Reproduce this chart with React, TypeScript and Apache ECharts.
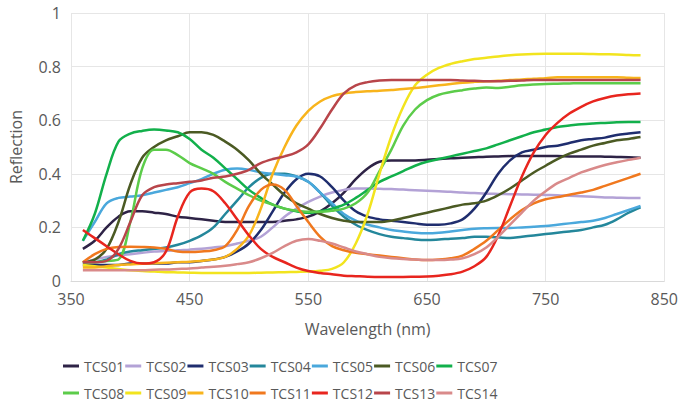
import React, { useEffect, useRef } from "react";
import * as echarts from "echarts";

const wavelengths = [360, 370, 380, 390, 400, 410, 420, 430, 440, 450, 460, 470, 480, 490, 500, 510, 520, 530, 540, 550, 560, 570, 580, 590, 600, 610, 620, 630, 640, 650, 660, 670, 680, 690, 700, 710, 720, 730, 740, 750, 760, 770, 780, 790, 800, 810, 820, 830];

const TCS01 = [.12, .15, .20, .24, .26, .26, .255, .25, .24, .235, .23, .225, .22, .22, .22, .22, .22, .225, .23, .24, .26, .29, .33, .38, .42, .445, .45, .45, .45, .452, .455, .458, .46, .462, .464, .465, .466, .466, .466, .466, .466, .465, .465, .465, .464, .463, .462, .46];
const TCS02 = [.07, .08, .09, .095, .10, .105, .11, .112, .115, .117, .12, .125, .13, .14, .15, .165, .20, .24, .27, .295, .315, .33, .34, .345, .345, .344, .343, .341, .339, .337, .335, .333, .33, .328, .326, .325, .324, .323, .322, .321, .32, .318, .316, .314, .312, .311, .31, .31];
const TCS03 = [.06, .06, .06, .06, .065, .065, .065, .065, .07, .07, .075, .08, .09, .11, .14, .19, .26, .33, .38, .40, .39, .35, .30, .26, .24, .23, .225, .22, .215, .21, .21, .215, .23, .27, .33, .40, .45, .48, .49, .50, .505, .515, .525, .53, .535, .545, .55, .555];
const TCS04 = [.07, .07, .08, .10, .11, .115, .12, .125, .135, .15, .17, .20, .25, .30, .35, .385, .40, .40, .39, .37, .33, .28, .24, .21, .19, .175, .165, .16, .155, .153, .155, .158, .16, .165, .165, .163, .16, .165, .17, .175, .18, .185, .19, .20, .21, .23, .255, .275];
const TCS05 = [.15, .22, .29, .31, .315, .32, .33, .34, .35, .365, .38, .40, .415, .42, .415, .405, .40, .395, .39, .37, .33, .29, .25, .225, .21, .20, .19, .185, .18, .178, .18, .185, .19, .195, .197, .198, .198, .20, .202, .205, .21, .215, .22, .225, .235, .25, .265, .28];
const TCS06 = [.07, .08, .12, .22, .36, .46, .50, .525, .54, .555, .555, .545, .52, .49, .45, .40, .36, .32, .29, .27, .25, .235, .225, .22, .22, .22, .225, .235, .245, .255, .265, .275, .285, .29, .30, .32, .345, .375, .405, .43, .455, .475, .49, .505, .515, .525, .53, .537];
const TCS07 = [.15, .25, .40, .52, .55, .56, .565, .562, .555, .53, .49, .46, .42, .38, .34, .31, .285, .27, .26, .255, .26, .27, .285, .31, .34, .37, .39, .41, .43, .445, .455, .465, .475, .485, .495, .51, .525, .54, .555, .565, .575, .58, .585, .588, .59, .592, .593, .593];
const TCS08 = [.07, .07, .075, .08, .22, .42, .49, .49, .47, .44, .42, .40, .37, .345, .32, .30, .285, .27, .262, .258, .258, .262, .27, .29, .33, .41, .49, .58, .64, .675, .695, .705, .712, .718, .722, .72, .725, .73, .733, .735, .736, .737, .738, .738, .738, .738, .738, .738];
const TCS09 = [.06, .055, .05, .045, .04, .037, .035, .033, .032, .031, .03, .03, .03, .03, .03, .031, .032, .033, .034, .035, .038, .045, .07, .14, .25, .40, .54, .65, .73, .77, .795, .81, .82, .828, .833, .838, .842, .845, .847, .848, .848, .848, .848, .847, .846, .845, .843, .842];
const TCS10 = [.05, .05, .055, .06, .062, .064, .066, .068, .07, .072, .075, .08, .09, .12, .17, .27, .40, .50, .58, .635, .67, .69, .70, .705, .708, .71, .713, .716, .72, .725, .73, .735, .74, .743, .745, .747, .75, .752, .755, .757, .76, .76, .76, .76, .76, .76, .758, .757];
const TCS11 = [.07, .10, .12, .127, .128, .127, .125, .12, .11, .108, .11, .115, .13, .19, .28, .34, .36, .34, .28, .22, .165, .13, .115, .105, .10, .095, .09, .085, .08, .078, .08, .085, .095, .12, .15, .19, .23, .265, .29, .305, .313, .322, .33, .34, .355, .37, .385, .40];
const TCS12 = [.19, .16, .13, .10, .075, .065, .07, .11, .24, .33, .345, .335, .29, .23, .17, .12, .09, .07, .05, .037, .03, .025, .02, .018, .016, .015, .015, .015, .016, .017, .02, .025, .035, .055, .09, .17, .28, .39, .48, .545, .59, .625, .65, .67, .683, .692, .697, .70];
const TCS13 = [.07, .07, .075, .12, .22, .32, .35, .36, .365, .37, .375, .385, .39, .40, .415, .44, .455, .465, .48, .51, .57, .64, .70, .73, .742, .748, .75, .75, .75, .75, .75, .75, .748, .747, .745, .745, .747, .748, .75, .75, .75, .75, .75, .75, .75, .75, .75, .75];
const TCS14 = [.04, .04, .04, .04, .04, .04, .042, .043, .045, .047, .05, .053, .057, .063, .07, .085, .105, .13, .15, .157, .15, .14, .125, .11, .10, .09, .085, .082, .08, .078, .078, .08, .085, .10, .125, .165, .21, .255, .30, .335, .365, .385, .405, .42, .433, .443, .452, .46];

const seriesNames = ["TCS01", "TCS02", "TCS03", "TCS04", "TCS05", "TCS06", "TCS07", "TCS08", "TCS09", "TCS10", "TCS11", "TCS12", "TCS13", "TCS14"];
const seriesValues = [TCS01, TCS02, TCS03, TCS04, TCS05, TCS06, TCS07, TCS08, TCS09, TCS10, TCS11, TCS12, TCS13, TCS14];
const seriesColors = ["#2e2346", "#b3a2d6", "#1f2d6e", "#24879b", "#4aa8dc", "#4b5a23", "#12b04b", "#5ccc4a", "#f2e41e", "#f8b41c", "#f0781e", "#e8251e", "#b8454a", "#d98a8a"];

const FONT = "'Open Sans', 'Noto Sans', sans-serif";
const TEXT = "#595959";

export default function App() {
  const ref = useRef<HTMLDivElement>(null);
  useEffect(() => {
    if (!ref.current) return;
    const chart = echarts.init(ref.current, undefined, { renderer: "svg" });
    const legendBase = {
      itemWidth: 16,
      itemHeight: 14,
      itemGap: 1,
      icon: "path://M0,6 L16,6 L16,9 L0,9 Z",
      textStyle: { color: TEXT, fontSize: 14, fontFamily: FONT },
      left: 58,
      orient: "horizontal" as const,
    };
    chart.setOption({
      animation: false,
      color: seriesColors,
      textStyle: { fontFamily: FONT },
      grid: { left: 65, right: 14, top: 13, bottom: 125, containLabel: false },
      legend: [
        { ...legendBase, top: 354, data: seriesNames.slice(0, 7) },
        { ...legendBase, top: 381, data: seriesNames.slice(7) },
      ],
      xAxis: {
        type: "value",
        min: 350,
        max: 850,
        interval: 100,
        name: "Wavelength (nm)",
        nameLocation: "middle",
        nameGap: 40,
        nameTextStyle: { color: TEXT, fontSize: 16, fontFamily: FONT },
        axisLine: { show: true, lineStyle: { color: "#d9d9d9" } },
        axisTick: { show: false },
        axisLabel: { color: TEXT, fontSize: 16, fontFamily: FONT, margin: 10 },
        splitLine: { show: true, lineStyle: { color: "#e6e6e6" } },
      },
      yAxis: {
        type: "value",
        min: 0,
        max: 1,
        interval: 0.2,
        name: "Reflection",
        nameLocation: "middle",
        nameGap: 47,
        nameTextStyle: { color: TEXT, fontSize: 16, fontFamily: FONT },
        axisLine: { show: false },
        axisTick: { show: false },
        axisLabel: { color: TEXT, fontSize: 16, fontFamily: FONT, margin: 10 },
        splitLine: { show: true, lineStyle: { color: "#e6e6e6" } },
      },
      series: seriesNames.map((name, i) => ({
        name,
        type: "line",
        smooth: 0.35,
        symbol: "none",
        lineStyle: { width: 2.5, color: seriesColors[i] },
        itemStyle: { color: seriesColors[i] },
        data: wavelengths.map((w, j) => [w, seriesValues[i][j]]),
      })),
    });
    return () => chart.dispose();
  }, []);
  return <div ref={ref} style={{ width: 681, height: 406, position: "absolute", left: 0, top: 0 }} />;
}
